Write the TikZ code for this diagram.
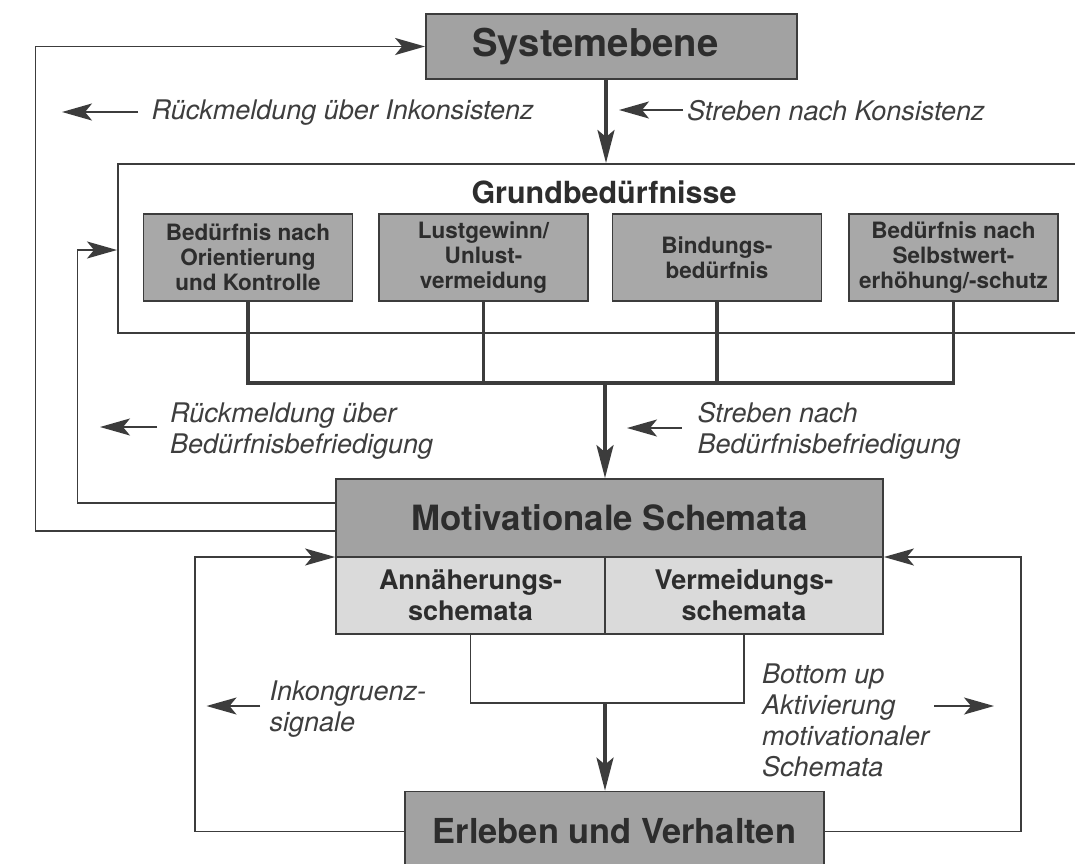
\documentclass[tikz,border=0pt]{standalone}
\usepackage{fontspec}
\setmainfont{TeX Gyre Heros}
\usetikzlibrary{arrows.meta}
\definecolor{ink}{RGB}{45,45,45}
\definecolor{labink}{RGB}{62,62,62}
\definecolor{linec}{RGB}{60,60,60}
\definecolor{boxdark}{RGB}{162,162,162}
\definecolor{boxmid}{RGB}{168,168,168}
\definecolor{boxlight}{RGB}{218,218,218}
\tikzset{
  darkbox/.style={draw=linec, line width=1.8pt, fill=boxdark, text=ink, inner sep=0pt, align=center},
  needbox/.style={draw=linec, line width=1.6pt, fill=boxmid, text=ink, inner sep=0pt, align=center, minimum width=209pt, minimum height=87pt, font=\bfseries\fontsize{22.5}{25}\selectfont},
  subbox/.style={draw=linec, line width=1.6pt, fill=boxlight, text=ink, inner sep=0pt, align=center, minimum height=77pt, font=\bfseries\fontsize{27}{31}\selectfont},
  lab/.style={text=labink, inner sep=0pt, align=left, anchor=west, font=\itshape\fontsize{27}{31}\selectfont},
  thinline/.style={draw=linec, line width=1.7pt},
  thickline/.style={draw=linec, line width=3.4pt},
  labarrow/.style={draw=linec, line width=1.7pt, -{Stealth[length=30pt,width=17pt,inset=7pt]}},
  looparrow/.style={thinline, -{Stealth[length=30pt,width=17pt,inset=7pt]}},
  bigarrow/.style={thickline, -{Stealth[length=33pt,width=17pt,inset=7pt]}},
}
\begin{document}
\begin{tikzpicture}[x=1pt,y=-1pt]
\useasboundingbox (0,0) rectangle (1075,863);
\clip (0,0) rectangle (1075,863);
\fill[white] (0,0) rectangle (1075,863);

% boxes
\node[darkbox, minimum width=371pt, minimum height=65pt, font=\bfseries\fontsize{38.3}{42}\selectfont] (sys) at (611.5,46.5) {Systemebene\hspace*{32pt}};

\node[draw=linec, line width=1.6pt, minimum width=990pt, minimum height=169pt, anchor=north west, inner sep=0pt] (grund) at (117,163) {};
\node[text=ink, inner sep=0pt, font=\bfseries\fontsize{30.5}{34}\selectfont] (gt) at (604,192) {Grundbedürfnisse};

\node[needbox] (b1) at (248,257.5) {Bedürfnis nach\\Orientierung\\und Kontrolle};
\node[needbox] (b2) at (483.5,257.5) {Lustgewinn/\\Unlust-\\vermeidung};
\node[needbox] (b3) at (717,257.5) {Bindungs-\\bedürfnis};
\node[needbox] (b4) at (953.5,257.5) {Bedürfnis nach\\Selbstwert-\\erhöhung/-schutz};

\node[darkbox, minimum width=547pt, minimum height=78pt, font=\bfseries\fontsize{34.8}{38}\selectfont] (mot) at (609.5,518) {Motivationale Schemata};
\node[subbox, minimum width=269pt] (ann) at (470.5,595.5) {Annäherungs-\\schemata};
\node[subbox, minimum width=278pt] (verm) at (744,595.5) {Vermeidungs-\\schemata};
\node[darkbox, minimum width=419pt, minimum height=80pt, font=\bfseries\fontsize{34.4}{38}\selectfont] (erl) at (614.5,831.5) {Erleben und Verhalten};

% main flow
\coordinate (sysout) at ([xshift=-5.5pt]sys.south);
\draw[bigarrow] (sysout) -- (sysout |- grund.north);

\draw[thickline] (b1.south) -- ++(0,81) coordinate (busL) -| (b4.south);
\draw[thickline] (b2.south) -- (b2.south |- busL);
\draw[thickline] (b3.south) -- (b3.south |- busL);
\coordinate (busM) at (605,382);
\draw[bigarrow] (busM) -- (busM |- mot.north);

\draw[thinline] (ann.south) -- ++(0,68) coordinate (brL) -| (verm.south);
\coordinate (brM) at (605,702);
\draw[bigarrow] (brM) -- (brM |- erl.north);

% feedback loops
\coordinate (c1) at (35.5,46.5);
\draw[looparrow] ([yshift=-13pt]mot.west) -| (c1) -- (sys.west);
\coordinate (c2) at (77.5,250);
\draw[looparrow] ([yshift=15pt]mot.west) -| (c2) -- (c2 -| grund.west);
\coordinate (c3) at (195,557);
\draw[looparrow] (erl.west) -| (c3) -- (c3 -| mot.west);
\coordinate (c4) at (1021,557);
\draw[looparrow] (erl.east) -| (c4) -- (c4 -| mot.east);

% labels
\node[lab] (t1) at (151.5,113) {Rückmeldung über Inkonsistenz};
\coordinate (a1s) at (138,112); \coordinate (a1e) at (62,112);
\draw[labarrow] (a1s) -- (a1e);

\node[lab] (t2) at (687,111) {Streben nach Konsistenz};
\coordinate (a2s) at (683,110); \coordinate (a2e) at (619,110);
\draw[labarrow] (a2s) -- (a2e);

\node[lab] (t3) at (170,431) {Rückmeldung über\\Bedürfnisbefriedigung};
\coordinate (a3s) at (157,427); \coordinate (a3e) at (100,427);
\draw[labarrow] (a3s) -- (a3e);

\node[lab] (t4) at (697.5,431) {Streben nach\\Bedürfnisbefriedigung};
\coordinate (a4s) at (681.5,428); \coordinate (a4e) at (627,428);
\draw[labarrow] (a4s) -- (a4e);

\node[lab] (t5) at (269.5,709) {Inkongruenz-\\signale};
\coordinate (a5s) at (260,706); \coordinate (a5e) at (206.5,706);
\draw[labarrow] (a5s) -- (a5e);

\node[lab] (t6) at (762,720) {Bottom up\\Aktivierung\\motivationaler\\Schemata};
\coordinate (a6s) at (934,706); \coordinate (a6e) at (994,706);
\draw[labarrow] (a6s) -- (a6e);
\end{tikzpicture}
\end{document}
